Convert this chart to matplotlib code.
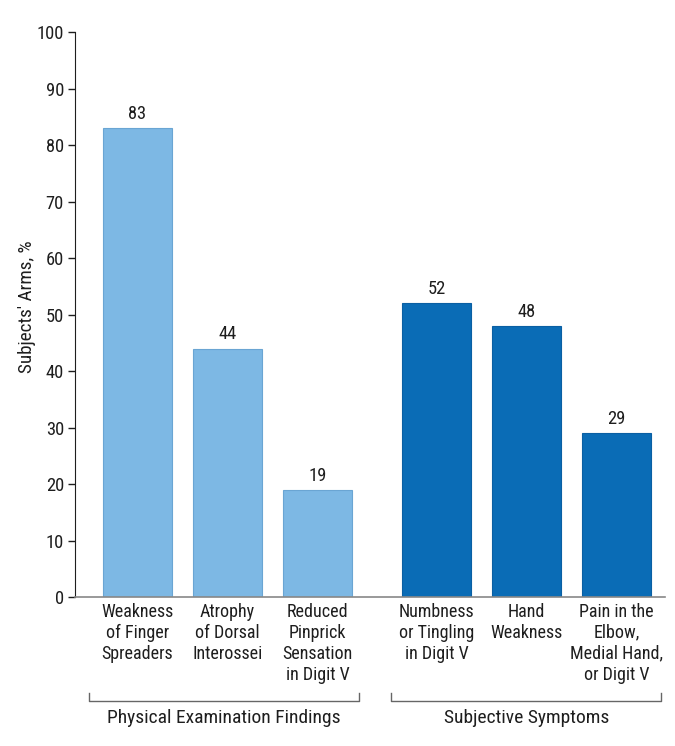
import numpy as np
import matplotlib
matplotlib.use('Agg')
import matplotlib.pyplot as plt

plt.rcParams['font.family'] = ['Roboto Condensed', 'Liberation Sans', 'DejaVu Sans']

# data
group_names = ['Physical Examination Findings', 'Subjective Symptoms']
physical_labels = ['Weakness\nof Finger\nSpreaders', 'Atrophy\nof Dorsal\nInterossei',
                   'Reduced\nPinprick\nSensation\nin Digit V']
physical_values = [83, 44, 19]
subjective_labels = ['Numbness\nor Tingling\nin Digit V', 'Hand\nWeakness',
                     'Pain in the\nElbow,\nMedial Hand,\nor Digit V']
subjective_values = [52, 48, 29]
y_ticks = [0, 10, 20, 30, 40, 50, 60, 70, 80, 90, 100]

light_blue = '#7db8e4'
dark_blue = '#0a6cb6'
text_col = '#1e1e1e'
fs = 13

fig = plt.figure(figsize=(6.75, 7.46), dpi=100)
ax = fig.add_axes([0.1111, 0.1997, 0.874, 0.757])

gap = 1.322
x1 = np.arange(len(physical_values))
x2 = np.arange(len(subjective_values)) + len(physical_values) - 1 + gap
w = 0.767

ax.bar(x1, physical_values, width=w, color=light_blue, edgecolor='#6aa5d3', linewidth=0.8)
ax.bar(x2, subjective_values, width=w, color=dark_blue, edgecolor='#0a5fa3', linewidth=0.8)

for xs, vals in [(x1, physical_values), (x2, subjective_values)]:
    for x, v in zip(xs, vals):
        ax.text(x, v + 0.9, str(v), ha='center', va='bottom', fontsize=fs + 0.3, color=text_col)

ax.set_xlim(-0.694, x2[-1] + 0.54)
ax.set_ylim(0, 100)
ax.set_yticks(y_ticks)
ax.tick_params(axis='y', labelsize=fs + 0.3, length=5, width=1, colors=text_col, pad=3)
ax.set_xticks(list(x1) + list(x2))
ax.set_xticklabels(physical_labels + subjective_labels, fontsize=fs, color=text_col,
                   linespacing=1.22)
ax.tick_params(axis='x', length=0, pad=4)

ax.spines['top'].set_visible(False)
ax.spines['right'].set_visible(False)
ax.spines['left'].set_color(text_col)
ax.spines['bottom'].set_color('#888888')
ax.spines['bottom'].set_linewidth(1.2)

ax.set_ylabel("Subjects' Arms, %", fontsize=13.8, color=text_col)
ax.yaxis.set_label_coords(-0.066, 0.515)

# group brackets
trans = ax.get_xaxis_transform()
for xs, name, (l, r) in [(x1, group_names[0], (-0.54, 0.46)), (x2, group_names[1], (-0.5, 0.5))]:
    xl, xr = xs[0] + l, xs[-1] + r
    ax.plot([xl, xl, xr, xr], [-0.170, -0.184, -0.184, -0.170], transform=trans,
            color='#666666', lw=1, clip_on=False)
    ax.text((xl + xr) / 2, -0.214, name, transform=trans, ha='center', va='center',
            fontsize=14, color=text_col)

fig.savefig('out.png', dpi=100)
